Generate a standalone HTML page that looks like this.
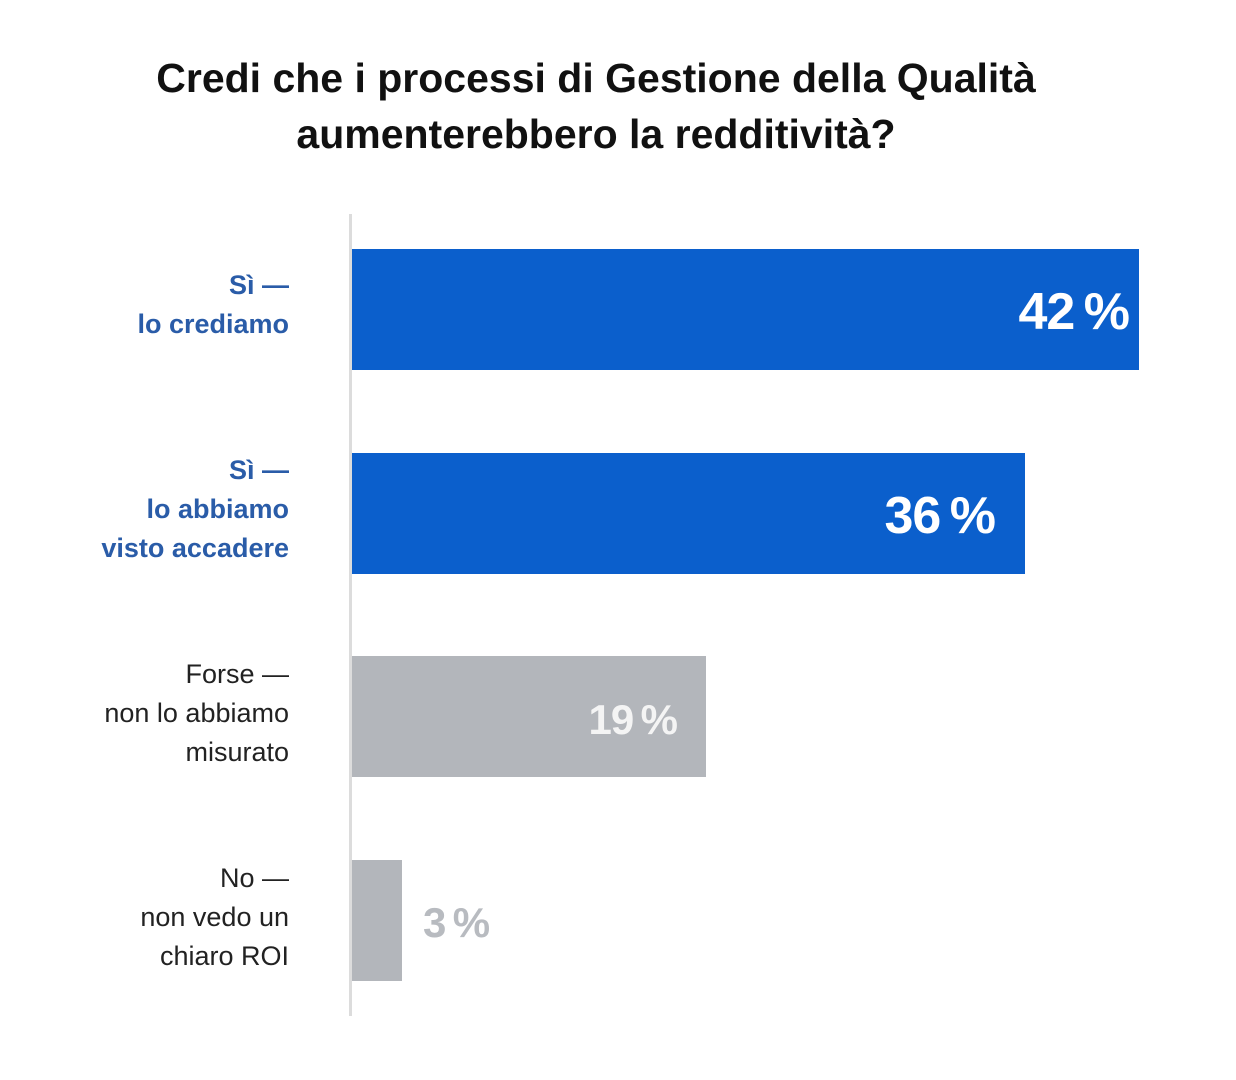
<!DOCTYPE html>
<html><head><meta charset="utf-8"><style>
body{margin:0;width:1236px;height:1080px;background:#fff;position:relative;font-family:"Liberation Sans",sans-serif;overflow:hidden}
.t{position:absolute;left:0;width:1192px;text-align:center;font-weight:bold;font-size:41px;color:#111;line-height:56px}
.axis{position:absolute;left:349px;top:214px;width:3px;height:802px;background:#dcdcdc}
.bar{position:absolute;left:352px;height:121px}
.b{background:#0b5fcc}.g{background:#b3b6bb}
.v{position:absolute;font-weight:bold;color:#fff;font-size:52px;line-height:60px;letter-spacing:-1px}
.lab{position:absolute;right:947px;text-align:right;font-size:27px;line-height:39px;color:#222}
.bl{color:#2a5ca8;font-weight:bold}
</style></head><body>
<div class="t" style="top:50px">Credi che i processi di Gestione della Qualità</div>
<div class="t" style="top:106px">aumenterebbero la redditività?</div>
<div class="axis"></div>
<div class="bar b" style="top:249px;width:787px"></div>
<div class="bar b" style="top:453px;width:673px"></div>
<div class="bar g" style="top:656px;width:354px"></div>
<div class="bar g" style="top:860px;width:50px"></div>
<div class="v" style="top:282px;right:107px">42&#8201;%</div>
<div class="v" style="top:486px;right:241px">36&#8201;%</div>
<div class="v" style="top:690px;right:559px;font-size:42px;color:#f4f4f4">19&#8201;%</div>
<div class="v" style="top:893px;left:423px;font-size:42px;color:#b8bbc0">3&#8201;%</div>
<div class="lab bl" style="top:266px">Sì —<br>lo crediamo</div>
<div class="lab bl" style="top:451px">Sì —<br>lo abbiamo<br>visto accadere</div>
<div class="lab" style="top:655px">Forse —<br>non lo abbiamo<br>misurato</div>
<div class="lab" style="top:859px">No —<br>non vedo un<br>chiaro ROI</div>
</body></html>
